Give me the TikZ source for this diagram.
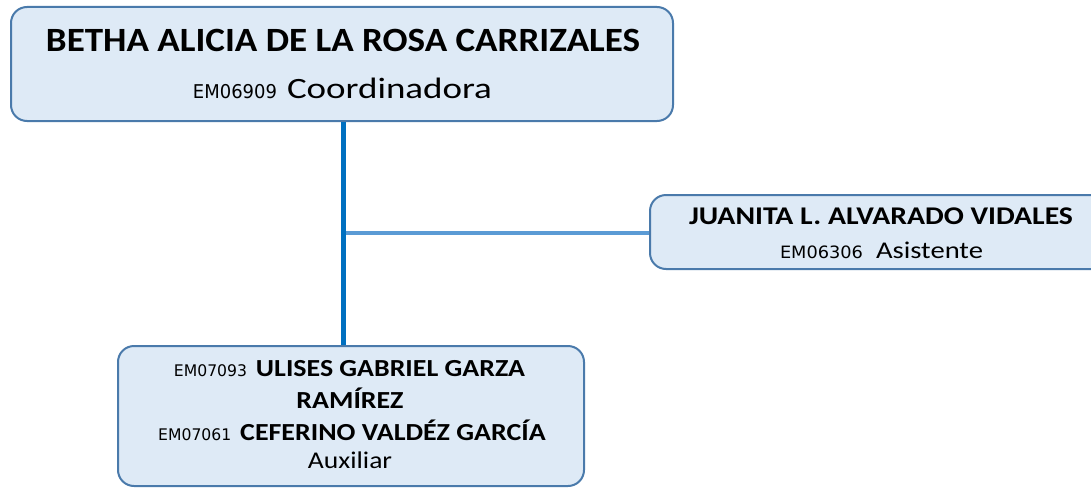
\documentclass[tikz,border=0pt]{standalone}
\usepackage{fontspec}
\usepackage{graphicx}
\setmainfont{Carlito}
\newfontfamily\codefont{DejaVu Sans}
\definecolor{boxfill}{HTML}{DEEAF6}
\definecolor{boxdraw}{HTML}{4A7AAB}
\definecolor{lineA}{HTML}{0070C0}
\definecolor{lineB}{HTML}{5B9BD5}
\newcommand\fitw[2]{\resizebox{#1}{\height}{#2}}
\newcommand\fs[1]{\fontsize{#1}{#1}\selectfont}
\begin{document}
\begin{tikzpicture}[x=1pt,y=-1pt,
  box/.style={draw=boxdraw, line width=2pt, fill=boxfill, rounded corners=16pt, inner sep=0pt, anchor=north west},
  txt/.style={inner sep=0pt, anchor=base},
  mainline/.style={draw=lineA, line width=5pt},
  sideline/.style={draw=lineB, line width=4pt}]
\useasboundingbox (0,0) rectangle (1091,487);
\clip (0,0) rectangle (1091,487);
% boxes
\node[box, minimum width=662pt, minimum height=114pt] (coord) at (10,6) {};
\node[box, minimum width=466pt, minimum height=74pt] (asist) at (649,194) {};
\node[box, minimum width=466pt, minimum height=140pt] (aux) at (117,345) {};
% connectors
\coordinate (j) at (343,233);
\draw[sideline] (j) -- (asist.west |- j);
\draw[mainline] (coord.south -| j) -- (aux.north -| j);
% texts
\node[txt] (coordname) at (343,52) {\fitw{594pt}{\fs{34}\bfseries BETHA ALICIA DE LA ROSA CARRIZALES}};
\node[txt] (coordrole) at (342.5,98) {\fitw{84pt}{\codefont\fs{19}EM06909}\hspace{10pt}\fitw{205pt}{\fs{29.5}Coordinadora}};
\node[txt] (asistname) at (881,224) {\fitw{384pt}{\fs{25.5}\bfseries JUANITA L. ALVARADO VIDALES}};
\node[txt] (asistrole) at (881.5,258) {\fitw{83pt}{\codefont\fs{17}EM06306}\hspace{13pt}\fitw{107pt}{\fs{24}Asistente}};
\node[txt] (aux1) at (349.5,376) {\fitw{73pt}{\codefont\fs{16}EM07093}\hspace{9pt}\fitw{269pt}{\fs{24.5}\bfseries ULISES GABRIEL GARZA}};
\node[txt] (aux2) at (350,408) {\scalebox{1.14}[1]{\fs{24.5}\bfseries RAMÍREZ}};
\node[txt] (aux3) at (352,440) {\fitw{73pt}{\codefont\fs{16}EM07061}\hspace{9pt}\scalebox{1.14}[1]{\fs{24.5}\bfseries CEFERINO VALDÉZ GARCÍA}};
\node[txt] (aux4) at (350,468) {\scalebox{1.15}[1]{\fs{24}Auxiliar}};
\end{tikzpicture}
\end{document}
